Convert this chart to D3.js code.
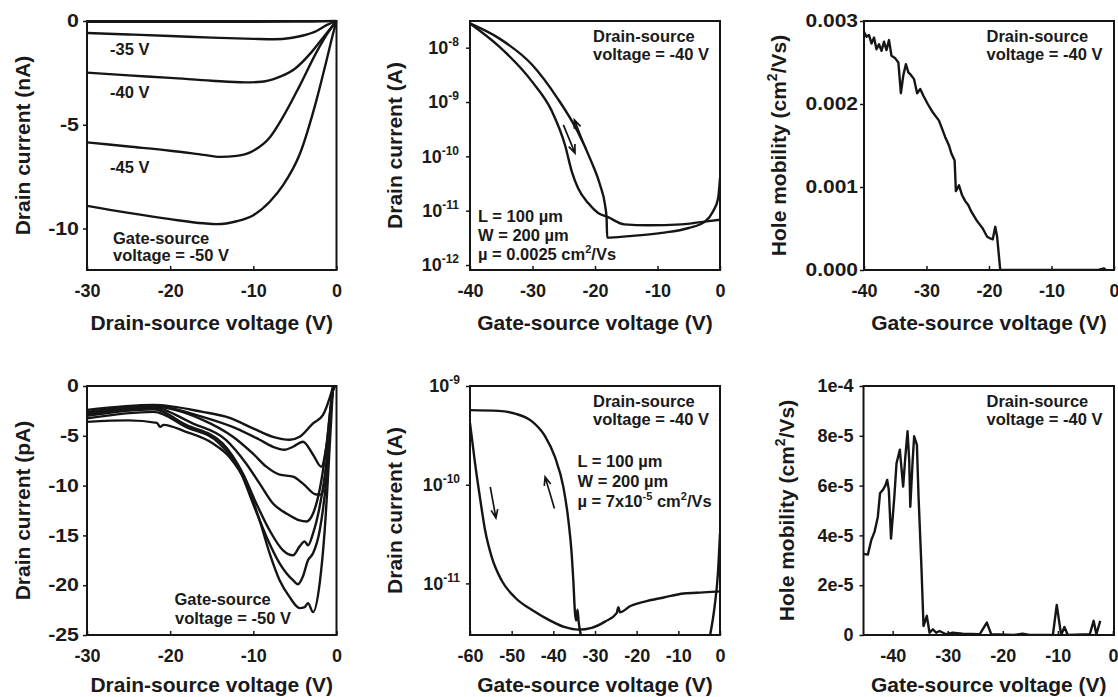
<!DOCTYPE html>
<html lang="en">
<head>
<meta charset="UTF-8">
<title>Transistor characteristics</title>
<script src="https://d3js.org/d3.v7.min.js"></script>
<style>
  body { margin: 0; background: #fff; }
  svg text { font-family: "Liberation Sans", Arial, sans-serif; font-weight: bold; fill: #1a1a1a; }
</style>
</head>
<body>
<svg width="1118" height="697"></svg>
<script>
// ---- panel 1: output curves, nA (drain-source V, drain current nA)
const out30 = [[-30, -0.04], [-15, -0.04], [-5, -0.03], [0, 0]];
const out35 = [[-30, -0.58], [-25, -0.65], [-20, -0.72], [-15, -0.8], [-10, -0.86], [-7.5, -0.88], [-5.5, -0.82], [-4, -0.7], [-2.4, -0.48], [-1.2, -0.2], [0, 0]];
const out40 = [[-30, -2.49], [-25, -2.62], [-20, -2.74], [-15, -2.88], [-11, -2.96], [-9, -2.93], [-7, -2.72], [-5, -2.3], [-3, -1.5], [-1.5, -0.75], [0, 0]];
const out45 = [[-30, -5.85], [-25, -6.05], [-20, -6.25], [-16, -6.45], [-14, -6.55], [-12, -6.5], [-10, -6.25], [-8, -5.6], [-6.4, -4.6], [-4.4, -3.1], [-2.4, -1.5], [-1, -0.55], [0, 0]];
const out50 = [[-30, -8.91], [-25, -9.25], [-20, -9.55], [-16, -9.75], [-14.4, -9.79], [-12, -9.65], [-10, -9.36], [-8, -8.7], [-6.4, -7.9], [-4.4, -6.4], [-2.4, -3.8], [-1.2, -1.9], [-0.4, -0.59], [0, 0]];
const outLabels = [["-35 V", 55], ["-40 V", 98], ["-45 V", 173]];

// ---- panel 2: transfer curve (A), log scale
const tfUp = [[-40, 2.8e-8], [-35.4, 1.5e-8], [-30.1, 4.9e-9], [-26, 1.17e-9], [-22.8, 2.9e-10], [-20.6, 8.1e-11], [-19.2, 3.0e-11], [-18.4, 1.29e-11], [-18.15, 7.4e-12], [-18.05, 3.2e-12], [-14.6, 3.4e-12], [-9.3, 3.9e-12], [-5, 4.8e-12], [-2.4, 6.3e-12], [-1.1, 9.8e-12], [-0.3, 1.7e-11], [0, 4.0e-11]];
const tfDown = [[-40, 2.8e-8], [-35.4, 1.07e-8], [-30.1, 2.4e-9], [-26.9, 6.8e-10], [-24.8, 1.62e-10], [-23.7, 5.2e-11], [-22.7, 2.6e-11], [-21.1, 1.38e-11], [-19.5, 9.1e-12], [-17.9, 7.6e-12], [-15.3, 5.6e-12], [-11.5, 5.4e-12], [-6.2, 5.6e-12], [-2.5, 6.3e-12], [0, 6.8e-12]];
const tfArrows = [[[-25.06, 3.8e-10], [-23.2, 1.15e-10]], [[-21.5, 1.41e-10], [-23.3, 4.7e-10]]];

// ---- panel 3: hole mobility (cm2/Vs)
const mob1 = [[-40, 0.00287], [-39.6, 0.00281], [-39.2, 0.00283], [-38.8, 0.00273], [-38.4, 0.0028], [-38.0, 0.00266], [-37.6, 0.00272], [-37.2, 0.00264], [-36.8, 0.00275], [-36.4, 0.00265], [-36.0, 0.00277], [-35.6, 0.00258], [-35.0, 0.00255], [-34.5, 0.0025], [-34.1, 0.00213], [-33.7, 0.00235], [-33.3, 0.00248], [-32.9, 0.00238], [-32.5, 0.00235], [-32.0, 0.0023], [-31.5, 0.00213], [-31.0, 0.00218], [-30.5, 0.0021], [-29.8, 0.002], [-29.0, 0.0019], [-28.0, 0.0018], [-27.5, 0.0017], [-27.0, 0.0016], [-26.4, 0.0015], [-26.0, 0.0014], [-25.5, 0.00132], [-25.3, 0.00095], [-24.8, 0.00102], [-24.3, 0.0009], [-23.8, 0.00083], [-23.3, 0.00078], [-22.8, 0.0007], [-22.0, 0.0006], [-21.5, 0.00055], [-21.0, 0.0005], [-20.3, 0.0004], [-19.8, 0.00038], [-19.4, 0.00037], [-19.0, 0.00052], [-18.7, 0.0004], [-18.2, 0], [-10, 0], [-2.5, 0], [-1.6, 0.00002], [-1.3, 0]];

// ---- panel 4: output curves, pA
const pa1 = [[-30, -2.4], [-22, -1.9], [-16.1, -2.6], [-12.85, -3.2], [-10.04, -4.25], [-7.64, -5.1], [-5.63, -5.4], [-4.43, -5.1], [-2.82, -3.75], [-1.62, -2.9], [-0.82, -1.2], [-0.4, 0]];
const pa2 = [[-30, -2.6], [-22, -2.0], [-16.1, -3.1], [-11.65, -4.4], [-9.24, -5.4], [-7.64, -6.1], [-6.23, -6.4], [-5.23, -6.1], [-4.03, -5.6], [-2.82, -6.9], [-1.82, -8.1], [-1.22, -6.1], [-0.42, -0.4], [-0.2, 0]];
const pa3 = [[-30, -2.75], [-22, -2.1], [-16.1, -3.4], [-12.45, -5.1], [-10.04, -6.8], [-8.44, -8.1], [-6.84, -8.9], [-5.23, -9.1], [-4.03, -9.8], [-2.42, -10.9], [-1.82, -10.9], [-1.22, -8.1], [-0.42, -0.4], [-0.2, 0]];
const pa4 = [[-30, -2.9], [-22, -2.2], [-17.3, -3.75], [-13.3, -5.4], [-10.85, -7.8], [-9.24, -9.8], [-7.64, -11.8], [-6.03, -12.8], [-4.43, -13.5], [-3.63, -13.6], [-2.82, -12.8], [-2.02, -10.4], [-1.22, -6.1], [-0.42, -0.4], [-0.2, 0]];
const pa5 = [[-30, -3.0], [-22, -2.35], [-18.1, -3.9], [-13.7, -5.76], [-11.25, -8.8], [-9.64, -11.8], [-8.04, -14.5], [-6.43, -16.5], [-5.23, -17.0], [-4.43, -16.1], [-3.83, -15.6], [-3.43, -16.0], [-2.82, -14.8], [-2.02, -12.1], [-1.22, -7.8], [-0.42, -0.4], [-0.2, 0]];
const pa6 = [[-30, -3.25], [-22, -2.6], [-18.1, -4.1], [-14.1, -5.76], [-11.65, -8.4], [-10.04, -11.8], [-8.44, -15.1], [-6.84, -17.8], [-5.23, -19.5], [-4.63, -19.9], [-4.03, -19.1], [-3.43, -17.5], [-2.82, -16.8], [-2.02, -14.5], [-1.22, -9.4], [-0.42, -0.4], [-0.2, 0]];
const pa7 = [[-30, -3.6], [-25, -3.45], [-21.6, -3.7], [-21.2, -4.1], [-20.8, -3.9], [-18.1, -4.6], [-14.9, -5.75], [-12.9, -7.1], [-10.85, -9.8], [-9.24, -13.5], [-8.04, -16.8], [-6.84, -19.5], [-5.63, -21.2], [-4.43, -22.3], [-3.83, -22.2], [-3.43, -21.8], [-2.82, -22.7], [-2.02, -19.8], [-1.42, -14.5], [-0.82, -6.1], [-0.42, 0]];

// ---- panel 5: transfer curve (A), log scale
const tf2Up = [[-60, 5.7e-10], [-53.15, 5.6e-10], [-49.2, 5.25e-10], [-45.2, 4.4e-10], [-42.0, 3.1e-10], [-39.6, 1.9e-10], [-37.6, 9.5e-11], [-36.4, 4.4e-11], [-35.6, 2.0e-11], [-35.2, 1.07e-11], [-34.8, 5.0e-12], [-34.5, 4.2e-12], [-34.2, 5.4e-12], [-33.9, 4.0e-12], [-33.4, 3.0e-12], [-32.5, 2.0e-12], [-20, 5e-13], [-5, 1e-12], [-2.5, 2.8e-12], [-1.3, 5.8e-12], [-0.5, 1.26e-11], [0, 3.2e-11]];
const tf2Down = [[-60, 4.2e-10], [-58.8, 1.66e-10], [-57.5, 6.9e-11], [-56.4, 3.5e-11], [-54.8, 1.86e-11], [-52.4, 1.07e-11], [-49.2, 7.2e-12], [-45.2, 5.4e-12], [-41.2, 4.3e-12], [-37.2, 3.6e-12], [-34.0, 3.4e-12], [-30.8, 3.55e-12], [-27.6, 4.1e-12], [-24.8, 5.0e-12], [-24.4, 5.75e-12], [-24.0, 5.1e-12], [-21.5, 5.9e-12], [-18.3, 6.5e-12], [-13.5, 7.2e-12], [-8.7, 7.9e-12], [-4, 8.1e-12], [0, 8.3e-12]];
const tf2Arrows = [[[-55.14, 9.5e-11], [-53.78, 4.6e-11]], [[-39.74, 5.75e-11], [-41.97, 1.2e-10]]];

// ---- panel 6: hole mobility (cm2/Vs)
const mob2 = [[-45.3, 3.26e-5], [-44.5, 3.23e-5], [-43.9, 3.8e-5], [-43.3, 4.14e-5], [-42.7, 4.74e-5], [-42.3, 5.69e-5], [-41.8, 5.82e-5], [-41.3, 6.02e-5], [-41.0, 6.23e-5], [-40.7, 5.82e-5], [-40.3, 3.87e-5], [-39.7, 5.55e-5], [-39.3, 6.9e-5], [-38.7, 7.44e-5], [-38.1, 5.96e-5], [-37.7, 7.17e-5], [-37.3, 8.18e-5], [-37.0, 7.03e-5], [-36.8, 5.15e-5], [-36.4, 6.9e-5], [-36.1, 7.98e-5], [-35.6, 7.64e-5], [-35.3, 5.55e-5], [-34.8, 2.86e-5], [-34.4, 0.36e-5], [-33.8, 0.77e-5], [-33.3, 0.09e-5], [-32.7, 0.23e-5], [-32.1, 0.09e-5], [-31.5, 0.16e-5], [-30.3, 0.03e-5], [-29.1, 0.09e-5], [-27.3, 0.05e-5], [-24.2, 0.03e-5], [-22.9, 0.5e-5], [-22.1, 0.03e-5], [-18, 0], [-16.4, 0.05e-5], [-15.2, 0], [-10.9, 0], [-10.2, 1.21e-5], [-9.4, 0], [-8.8, 0.32e-5], [-8.2, 0], [-4.2, 0.03e-5], [-3.5, 0.57e-5], [-3.0, 0.03e-5], [-2.3, 0.57e-5]];

// tick labels
const mob2TickVals = [0, 2e-5, 4e-5, 6e-5, 8e-5, 1e-4];
const mob2TickText = ["0", "2e-5", "4e-5", "6e-5", "8e-5", "1e-4"];

const svg = d3.select("svg");
const INK = "#151515";

function makePanel(c) {
  const x = d3.scaleLinear().domain(c.xDomain).range([c.left, c.right]);
  const y = (c.log ? d3.scaleLog() : d3.scaleLinear()).domain(c.yDomain).range([c.bottom, c.top]);
  const g = svg.append("g");

  svg.append("clipPath").attr("id", c.id)
    .append("rect")
    .attr("x", c.left - 1).attr("y", c.top - 2)
    .attr("width", c.right - c.left + 2).attr("height", c.bottom - c.top + 3);

  const xa = g.append("g")
    .attr("transform", `translate(0,${c.bottom})`)
    .call(d3.axisBottom(x).tickValues(c.xTicks).tickSize(-4).tickPadding(14).tickFormat(d => String(d)));
  const ya = g.append("g")
    .attr("transform", `translate(${c.left},0)`)
    .call(d3.axisLeft(y).tickValues(c.yTicks).tickSize(4).tickPadding(c.yPad).tickFormat(c.yFormat));
  [xa, ya].forEach(a => {
    a.select(".domain").remove();
    a.selectAll("line").attr("stroke", INK).attr("stroke-width", 1.5);
    a.selectAll("text").attr("font-size", 18).attr("fill", INK);
  });
  if (c.log) {
    ya.selectAll(".tick text").each(function(d) {
      const t = d3.select(this).text("10");
      t.append("tspan").attr("dy", -8).attr("font-size", 12).text(Math.round(Math.log10(d)));
    });
  }
  if (c.stretch) {
    // the y labels in these panels are drawn wider than tall
    ya.selectAll(".tick text").each(function() {
      const t = d3.select(this);
      t.attr("font-size", 17.5).attr("x", +t.attr("x") / c.stretch).attr("transform", `scale(${c.stretch},1)`);
    });
  }

  g.append("rect")
    .attr("x", c.left).attr("y", c.top)
    .attr("width", c.right - c.left).attr("height", c.bottom - c.top)
    .attr("fill", "none").attr("stroke", INK).attr("stroke-width", 2);

  g.append("text")
    .attr("x", (c.left + c.right) / 2).attr("y", c.bottom + c.xTitleDy)
    .attr("text-anchor", "middle").attr("font-size", 21)
    .text(c.xTitle);

  const yt = g.append("text")
    .attr("transform", `translate(${c.yTitleX},${(c.top + c.bottom) / 2}) rotate(-90)`)
    .attr("text-anchor", "middle").attr("font-size", 21);
  richParts(yt, c.yTitle, 21);

  const plot = g.append("g").attr("clip-path", `url(#${c.id})`);
  return { g, x, y, plot };
}

// parts: plain strings, or {sup: "..."} for superscripts
function richParts(t, parts, size) {
  let raised = false;
  const shift = Math.round(size * 0.42);
  parts.forEach(p => {
    if (typeof p === "string") {
      t.append("tspan").attr("dy", raised ? shift : 0).text(p);
      raised = false;
    } else {
      t.append("tspan").attr("dy", -shift).attr("font-size", Math.round(size * 0.68)).text(p.sup);
      raised = true;
    }
  });
}

function label(g, x, y, parts, size = 16.5) {
  const t = g.append("text").attr("x", x).attr("y", y).attr("font-size", size);
  richParts(t, parts, size);
}

function drawLine(p, data, curve) {
  p.plot.append("path")
    .datum(data)
    .attr("fill", "none")
    .attr("stroke", INK)
    .attr("stroke-width", 2.4)
    .attr("stroke-linejoin", "round")
    .attr("d", d3.line().x(d => p.x(d[0])).y(d => p.y(d[1])).curve(curve));
}

function drawArrow(p, a) {
  const [x0, y0] = [p.x(a[0][0]), p.y(a[0][1])];
  const [x1, y1] = [p.x(a[1][0]), p.y(a[1][1])];
  const ang = Math.atan2(y1 - y0, x1 - x0);
  const len = 9, spread = 0.38;
  const b1 = [x1 - len * Math.cos(ang - spread), y1 - len * Math.sin(ang - spread)];
  const b2 = [x1 - len * Math.cos(ang + spread), y1 - len * Math.sin(ang + spread)];
  p.g.append("path")
    .attr("d", `M${x0},${y0}L${x1},${y1}M${b1[0]},${b1[1]}L${x1},${y1}L${b2[0]},${b2[1]}`)
    .attr("fill", "none").attr("stroke", INK).attr("stroke-width", 1.7);
}

const COL = [[87, 336.5], [470, 720], [864, 1114]];
const ROW = [[21, 270], [386, 635]];

// ---------- panel 1
const p1 = makePanel({
  id: "c1", left: COL[0][0], right: COL[0][1], top: ROW[0][0], bottom: ROW[0][1],
  xDomain: [-30, 0], yDomain: [-12, 0], stretch: 1.22,
  xTicks: [-30, -20, -10, 0], yTicks: [0, -5, -10], yFormat: d => String(d), yPad: 4,
  xTitle: "Drain-source voltage (V)", xTitleDy: 60, yTitle: ["Drain current (nA)"], yTitleX: 29.5
});
[out30, out35, out40, out45, out50].forEach(s => drawLine(p1, s, d3.curveMonotoneX));
outLabels.forEach(l => label(p1.g, 110, l[1], [l[0]]));
label(p1.g, 113, 243.5, ["Gate-source"]);
label(p1.g, 113, 261, ["voltage = -50 V"]);

// ---------- panel 2
const p2 = makePanel({
  id: "c2", left: COL[1][0], right: COL[1][1], top: ROW[0][0], bottom: ROW[0][1],
  xDomain: [-40, 0], yDomain: [8.1e-13, 3.1e-8], log: true,
  xTicks: [-40, -30, -20, -10, 0], yTicks: [1e-8, 1e-9, 1e-10, 1e-11, 1e-12], yFormat: d => d, yPad: 7,
  xTitle: "Gate-source voltage (V)", xTitleDy: 60, yTitle: ["Drain current (A)"], yTitleX: 402
});
drawLine(p2, tfUp, d3.curveMonotoneX);
drawLine(p2, tfDown, d3.curveMonotoneX);
tfArrows.forEach(a => drawArrow(p2, a));
label(p2.g, 593, 41.5, ["Drain-source"]);
label(p2.g, 593, 60, ["voltage = -40 V"]);
label(p2.g, 478, 221.5, ["L = 100 \u00b5m"]);
label(p2.g, 478, 240.5, ["W = 200 \u00b5m"]);
label(p2.g, 478, 259.5, ["\u00b5 = 0.0025 cm", { sup: "2" }, "/Vs"]);

// ---------- panel 3
const p3 = makePanel({
  id: "c3", left: COL[2][0], right: COL[2][1], top: ROW[0][0], bottom: ROW[0][1],
  xDomain: [-40, 0], yDomain: [0, 0.003], stretch: 1.2,
  xTicks: [-40, -30, -20, -10, 0], yTicks: [0, 0.001, 0.002, 0.003], yFormat: d => d.toFixed(3), yPad: 2,
  xTitle: "Gate-source voltage (V)", xTitleDy: 60, yTitle: ["Hole mobility (cm", { sup: "2" }, "/Vs)"], yTitleX: 786
});
drawLine(p3, mob1, d3.curveLinear);
label(p3.g, 986.5, 41.5, ["Drain-source"]);
label(p3.g, 986.5, 60, ["voltage = -40 V"]);

// ---------- panel 4
const p4 = makePanel({
  id: "c4", left: COL[0][0], right: COL[0][1], top: ROW[1][0], bottom: ROW[1][1],
  xDomain: [-30, 0], yDomain: [-25, 0], stretch: 1.22,
  xTicks: [-30, -20, -10, 0], yTicks: [0, -5, -10, -15, -20, -25], yFormat: d => String(d), yPad: 4,
  xTitle: "Drain-source voltage (V)", xTitleDy: 57, yTitle: ["Drain current (pA)"], yTitleX: 29.5
});
[pa1, pa2, pa3, pa4, pa5, pa6, pa7].forEach(s => drawLine(p4, s, d3.curveMonotoneX));
label(p4.g, 174.5, 605, ["Gate-source"]);
label(p4.g, 175, 623.5, ["voltage = -50 V"]);

// ---------- panel 5
const p5 = makePanel({
  id: "c5", left: COL[1][0], right: COL[1][1], top: ROW[1][0], bottom: ROW[1][1],
  xDomain: [-60, 0], yDomain: [3.0e-12, 1e-9], log: true,
  xTicks: [-60, -50, -40, -30, -20, -10, 0], yTicks: [1e-9, 1e-10, 1e-11], yFormat: d => d, yPad: 6,
  xTitle: "Gate-source voltage (V)", xTitleDy: 57, yTitle: ["Drain current (A)"], yTitleX: 401.5
});
drawLine(p5, tf2Up, d3.curveMonotoneX);
drawLine(p5, tf2Down, d3.curveMonotoneX);
tf2Arrows.forEach(a => drawArrow(p5, a));
label(p5.g, 593, 406.5, ["Drain-source"]);
label(p5.g, 593, 425, ["voltage = -40 V"]);
label(p5.g, 577.5, 466.5, ["L = 100 \u00b5m"]);
label(p5.g, 577.5, 486.5, ["W = 200 \u00b5m"]);
label(p5.g, 577.5, 506.5, ["\u00b5 = 7x10", { sup: "-5" }, " cm", { sup: "2" }, "/Vs"]);

// ---------- panel 6
const p6 = makePanel({
  id: "c6", left: 863.5, right: COL[2][1], top: ROW[1][0], bottom: ROW[1][1],
  xDomain: [-45.3, 0.2], yDomain: [0, 1e-4],
  xTicks: [-40, -30, -20, -10, 0], yTicks: mob2TickVals,
  yFormat: d => mob2TickText[mob2TickVals.indexOf(d)], yPad: 6,
  xTitle: "Gate-source voltage (V)", xTitleDy: 57, yTitle: ["Hole mobility (cm", { sup: "2" }, "/Vs)"], yTitleX: 794
});
drawLine(p6, mob2, d3.curveLinear);
label(p6.g, 986.5, 406.5, ["Drain-source"]);
label(p6.g, 986.5, 425, ["voltage = -40 V"]);
</script>
</body>
</html>
